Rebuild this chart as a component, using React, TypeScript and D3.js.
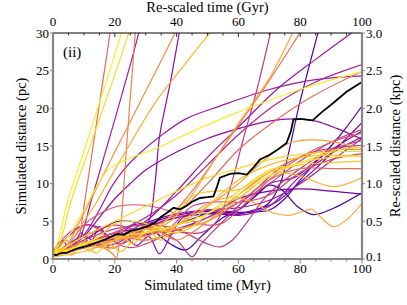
import * as d3 from "d3";

type Pt = [number, number];

// time in Myr, distance in pc
const xTicks = [0, 20, 40, 60, 80, 100];
const yTicks = [0, 5, 10, 15, 20, 25, 30];
const kpcLabels = ["0.1", "0.5", "1.0", "1.5", "2.0", "2.5", "3.0"];

const yA: Pt[] = [[0, 0.5], [2, 2.8], [4.4, 7.2], [10, 14.3], [19.5, 26.5], [22.5, 30.4]];
const yB: Pt[] = [[0, 0.5], [2.5, 2.5], [5.5, 7.2], [12, 15], [21.7, 26.5], [24.8, 30.4]];
const rA: Pt[] = [[0, 0.6], [3, 1.4], [6, 1.3], [8, 2.2], [10.1, 7.2], [14, 17.8], [17.2, 26.5], [18.6, 30.4]];
const pA: Pt[] = [[0, 0.7], [4, 1.3], [8, 2.2], [10, 4.2], [12, 7.2], [20, 18.5], [25.5, 26.5], [28, 30.4]];
const sV: Pt[] = [[0, 0.6], [5, 1.4], [10, 2.3], [15, 1.8], [19, 0.8], [20.5, 0.2], [21.5, 2.5], [24, 16], [26.7, 30.4]];
const oA: Pt[] = [[0, 0.5], [4, 1.5], [8, 4.5], [11.4, 7.2], [20, 14.2], [33, 24.7], [40, 30.4]];
const oB: Pt[] = [[0, 0.5], [5, 2], [10, 5], [13.6, 7.2], [20, 11.8], [33, 20.7], [42, 25.5], [51.5, 30.4]];
const pB: Pt[] = [[0, 0.6], [10, 2], [20, 3], [28, 3.8], [31, 5], [33, 10], [34.5, 16.3], [38, 23.5], [41, 30.4]];
const pArc: Pt[] = [[0, 0.5], [5, 1.5], [10, 3.2], [15, 6.5], [19, 9.6], [22.8, 11.8], [28, 14], [34.4, 16.2], [43, 18.6], [54, 20.3], [70, 22.5], [85, 23.8], [100, 24.3]];
const yArc: Pt[] = [[0, 0.5], [5, 3], [10, 6.5], [14, 9.5], [17.8, 11.8], [25, 13.4], [33, 14.6], [47.6, 17.4], [60, 19.5], [80, 22.5], [100, 24.9]];
const yC: Pt[] = [[0, 0.5], [10, 3], [20, 5], [30, 7], [40, 9], [50, 10.8], [60, 12], [70, 13.2], [80, 13.9], [90, 14.2], [100, 14.3]];
const yD: Pt[] = [[0, 0.4], [10, 2], [20, 3], [30, 3.5], [40, 4.5], [50, 6], [60, 8.5], [70, 11], [80, 12.8], [90, 13.5], [100, 13.7]];
const sB: Pt[] = [[0, 0.4], [10, 1.5], [20, 2.5], [28, 3], [35, 4.5], [45, 9], [56.7, 15.8], [70, 23.7], [80.5, 30.4]];
const sC: Pt[] = [[0, 0.5], [10, 2], [20, 3.5], [30, 4], [40, 6], [50, 10], [60, 14.5], [70, 17.8], [84, 21.6], [100, 24.9]];
const oC: Pt[] = [[0, 0.4], [10, 1.8], [20, 2.5], [30, 3.5], [38, 5], [45, 8.5], [52, 13], [60, 18], [70, 24], [78, 30.4]];
const mA: Pt[] = [[0, 0.5], [10, 2], [20, 3], [30, 2.5], [40, 3.5], [48, 3.5], [53, 5], [57, 9], [61.5, 15.8], [66, 22.5], [70.6, 30.4]];
const bA: Pt[] = [[0, 0.5], [10, 2], [20, 3.5], [30, 4.2], [40, 5.5], [50, 6], [60, 6], [66, 6.5], [70, 7.5], [73.5, 10], [80, 21], [86, 30.4]];
const pC: Pt[] = [[0, 0.5], [10, 1.5], [20, 2.8], [30, 5], [40, 9], [50, 13.5], [60, 17.5], [72.4, 22.5], [85, 26.5], [98, 30.4]];
const pD: Pt[] = [[0, 0.4], [10, 2], [20, 3.5], [30, 5.5], [40, 8.5], [50, 12.5], [60, 16.5], [72, 20.5], [85, 23.5], [100, 25.8]];
const pHump: Pt[] = [[0, 0.5], [5, 1.5], [10, 3], [15, 5.5], [20, 8], [25, 10], [30, 11.8], [40, 14.2], [50, 16], [60, 17.3], [70, 18.3], [78, 18.6], [85, 18.3], [92, 17.3], [100, 15.9]];
const bB: Pt[] = [[0, 0.3], [10, 1.5], [20, 2.5], [30, 3.5], [40, 4.5], [50, 6], [60, 6.2], [70, 6.5], [75, 8], [80, 10.5], [85, 12.8], [90, 15], [95, 17.5], [100, 20.3]];
const bC: Pt[] = [[0, 0.4], [10, 1.8], [20, 2], [30, 4.5], [40, 5.8], [50, 6.3], [58, 5.8], [65, 6.5], [72, 7.5], [78, 9.5], [85, 12], [92, 14.8], [100, 18.1]];
const mB: Pt[] = [[0, 0.4], [10, 2.5], [20, 4], [30, 4.5], [40, 4], [45, 3], [50, 2], [54, 1.6], [58, 2.5], [63, 5], [69, 8.3], [80, 12], [90, 14.5], [100, 15.7]];
const mC: Pt[] = [[0, 0.5], [10, 3], [20, 4.5], [30, 3.5], [40, 3.8], [50, 5.5], [60, 7.5], [70, 10], [80, 13], [90, 15.5], [100, 17.2]];
const pkA: Pt[] = [[0, 0.5], [5, 2], [10, 4.5], [15, 6], [20, 6.9], [26, 7.2], [32, 7], [38, 6.3], [44, 5.2], [50, 4.5], [55, 4.8], [60, 6.5], [70, 10.5], [80, 13.5], [90, 15.5], [100, 16.7]];
const mD: Pt[] = [[0, 0.4], [10, 2], [20, 1.5], [25, 3], [30, 4], [40, 2.5], [45, 0.3], [48, 2], [55, 5], [65, 9], [75, 12.5], [85, 14.3], [100, 15.1]];
const sD: Pt[] = [[0, 0.5], [10, 1.5], [20, 3], [30, 3.5], [40, 4], [50, 5], [60, 7.5], [70, 10.5], [80, 12], [90, 12], [100, 12]];
const oD: Pt[] = [[0, 0.4], [10, 2], [20, 2.8], [30, 3], [40, 4.5], [50, 7], [60, 10], [68, 13], [76, 15.3], [85, 15.8], [100, 14.7]];
const oE: Pt[] = [[0, 0.3], [10, 1], [20, 2.5], [30, 4], [40, 4], [50, 5], [60, 8], [72, 11.4], [80, 11], [90.7, 9.6], [100, 10.8]];
const pE: Pt[] = [[0, 0.5], [10, 1.5], [20, 2.5], [30, 3.2], [40, 4], [50, 5.5], [60, 8], [70, 9], [80, 9.3], [90, 9], [100, 8.6]];
const bD: Pt[] = [[0, 0.6], [10, 2.5], [20, 4.9], [25, 5], [30, 4.5], [38, 2], [43, 1.2], [48, 3], [55, 5.5], [60, 6.5], [66, 8.5], [70, 9.8], [74, 9.2], [79, 7], [84.2, 5.9], [90, 6.6], [100, 8.8]];
const oF: Pt[] = [[0, 0.3], [5, 1], [10, 2], [15, 1.5], [20, 2.5], [25, 3], [30, 2.5], [35, 3], [40, 4.5], [50, 7.3], [58, 8.2], [65, 7.5], [70, 6.3], [76, 5.8], [80, 6.2], [83.7, 6.6], [86, 5.8], [90.7, 4.3], [95, 5.2], [100, 7.4]];
const pF: Pt[] = [[0, 0.5], [5, 2], [10, 3], [15, 2], [18, 2.8], [22, 3.5], [27, 1.8], [31, 3], [34.4, 0.7], [38, 3], [42, 5.5], [50, 6.5], [60, 5.8], [70, 7], [80, 11], [90, 14], [100, 16.2]];
const yE: Pt[] = [[0, 0.3], [5, 1], [10, 2], [15, 3], [20, 4.7], [26, 5], [32, 4.5], [38, 3.5], [44, 4], [50, 6], [60, 9], [70, 11.8], [78, 12.5], [85, 13.5], [92, 14.5], [100, 14.8]];
const oG: Pt[] = [[0, 0.3], [3, 1.2], [6, 0.5], [9, 2], [12, 1], [15, 2.5], [18, 1.2], [22, 3], [26, 2], [30, 4], [35, 2.5], [40, 4.5], [45, 5], [50, 7], [60, 10.5], [70, 12.5], [80, 13.5], [90, 13.8], [100, 13.6]];
const sE: Pt[] = [[0, 0.5], [4, 2.5], [8, 1.2], [12, 3.5], [16, 2], [20, 1.5], [25, 3], [30, 4.5], [35, 3.5], [40, 2.5], [45, 3.5], [50, 5], [60, 8.5], [70, 11.5], [80, 13.5], [90, 14.5], [100, 14.5]];
const pG: Pt[] = [[0, 0.8], [3, 2.5], [6, 1], [9, 3.5], [12, 2], [15, 4.3], [18, 2.8], [22, 3.5], [26, 4.5], [30, 4.8], [35, 5.5], [40, 6], [45, 6.3], [50, 6.5], [55, 6.3], [60, 6.5], [70, 10], [78, 10.8], [85, 13], [92, 15], [100, 17]];
const mE: Pt[] = [[0, 0.5], [4, 3], [8, 4.2], [12, 4.5], [16, 3.5], [20, 2.2], [25, 1.5], [30, 2], [35, 3], [40, 5], [45, 7], [50, 7.5], [55, 7.6], [60, 7.5], [70, 8.5], [80, 11.5], [90, 13.2], [100, 14]];
const pH: Pt[] = [[0, 0.5], [5, 3], [10, 4.5], [14, 4.3], [18, 3], [22, 2], [26, 3], [30, 4], [35, 5], [40, 5.5], [50, 6.5], [60, 6.8], [70, 7.8], [80, 10], [90, 13], [100, 16]];
const oH: Pt[] = [[0, 0.2], [3, 1.5], [6, 0.7], [10, 1.8], [14, 0.8], [18, 2], [22, 1], [26, 2.5], [30, 3.5], [35, 4.5], [40, 6.5], [46, 8.5], [52, 9], [60, 9.2], [70, 11.5], [80, 12.5], [90, 12.8], [100, 13]];

const meanPath: Pt[] = [[0, 0.6], [1, 0.5], [2, 0.7], [3, 0.8], [4.4, 0.8], [6, 1.1], [8, 1.4], [10.9, 1.7], [13, 2], [15, 2.3], [17, 2.6], [20.6, 3.3], [23, 3.2], [25, 3.7], [28, 4], [30.3, 4.3], [33, 4.8], [35, 5.6], [36.8, 6.1], [39, 6.8], [41, 6.6], [43, 7], [45, 7.6], [47.6, 8.1], [50, 8.2], [51.9, 8.3], [53, 9.5], [54, 10.8], [57.3, 11.3], [60, 11.4], [62.7, 11.2], [65, 12.2], [67, 13.2], [70, 13.8], [73, 14.6], [75.6, 15.4], [77, 17], [77.8, 18.5], [80, 18.6], [84, 18.4], [87, 19.5], [90.7, 20.7], [95, 22.2], [100, 23.5]];

// colour position on the plasma map
const runs: { pts: Pt[]; c: number }[] = [
  { pts: pE, c: 0.22 }, { pts: bD, c: 0.12 }, { pts: bA, c: 0.12 }, { pts: bB, c: 0.15 },
  { pts: bC, c: 0.2 }, { pts: pG, c: 0.28 }, { pts: pF, c: 0.3 }, { pts: pH, c: 0.35 },
  { pts: pHump, c: 0.3 }, { pts: pArc, c: 0.35 }, { pts: pC, c: 0.33 }, { pts: pD, c: 0.38 },
  { pts: pA, c: 0.35 }, { pts: pB, c: 0.3 }, { pts: mA, c: 0.45 }, { pts: mB, c: 0.45 },
  { pts: mC, c: 0.48 }, { pts: mD, c: 0.42 }, { pts: mE, c: 0.5 }, { pts: pkA, c: 0.55 },
  { pts: sD, c: 0.62 }, { pts: sB, c: 0.65 }, { pts: sC, c: 0.62 }, { pts: rA, c: 0.62 },
  { pts: sV, c: 0.68 }, { pts: sE, c: 0.7 }, { pts: oA, c: 0.72 }, { pts: oC, c: 0.8 },
  { pts: oD, c: 0.78 }, { pts: oB, c: 0.82 }, { pts: oE, c: 0.83 }, { pts: oF, c: 0.8 },
  { pts: oG, c: 0.85 }, { pts: oH, c: 0.88 }, { pts: yC, c: 0.92 }, { pts: yE, c: 0.92 },
  { pts: yD, c: 0.96 }, { pts: yArc, c: 0.98 }, { pts: yA, c: 0.98 }, { pts: yB, c: 0.93 },
];

const W = 407, H = 305;
const m = { left: 53, right: 362, top: 33, bottom: 259 };
const serif = "Liberation Serif, Times New Roman, DejaVu Serif, serif";

export default function App() {
  const x = d3.scaleLinear().domain([0, 100]).range([m.left, m.right]);
  const y = d3.scaleLinear().domain([0, 30]).range([m.bottom, m.top]);
  const smooth = d3.line<Pt>().x(d => x(d[0])).y(d => y(d[1])).curve(d3.curveCatmullRom.alpha(0.5));
  const jagged = d3.line<Pt>().x(d => x(d[0])).y(d => y(d[1]));
  const minor = d3.range(0, 101, 5);
  const gray = "#858585";

  return (
    <svg width={W} height={H} style={{ position: "fixed", left: 0, top: 0, background: "#fff", fontFamily: serif }}>
      <defs>
        <clipPath id="plot">
          <rect x={m.left} y={m.top} width={m.right - m.left} height={m.bottom - m.top} />
        </clipPath>
      </defs>

      <g clipPath="url(#plot)" fill="none">
        {runs.map((r, i) => (
          <path key={i} d={smooth(r.pts) || ""} stroke={d3.interpolatePlasma(r.c)} strokeWidth={1.2} />
        ))}
        <path d={jagged(meanPath) || ""} stroke="#000" strokeWidth={1.8} />
      </g>

      {/* top axis */}
      <line x1={m.left} x2={m.right} y1={m.top} y2={m.top} stroke="#000" strokeWidth={1} />
      {minor.map(t => (
        <line key={"tt" + t} x1={x(t)} x2={x(t)} y1={m.top} y2={m.top + (t % 20 === 0 ? 4 : 2.5)} stroke="#000" strokeWidth={0.8} />
      ))}
      {xTicks.map(t => (
        <text key={"tl" + t} x={x(t)} y={26} textAnchor="middle" fontSize={13}>{t}</text>
      ))}
      <text x={(m.left + m.right) / 2} y={12} textAnchor="middle" fontSize={14.5}>Re-scaled time (Gyr)</text>

      {/* bottom axis */}
      {minor.map(t => (
        <line key={"bt" + t} x1={x(t)} x2={x(t)} y1={m.bottom} y2={m.bottom + (t % 20 === 0 ? 4.5 : 2.5)} stroke={gray} strokeWidth={1} />
      ))}
      <line x1={m.left - 1} x2={m.right + 1} y1={m.bottom} y2={m.bottom} stroke={gray} strokeWidth={2.2} />
      {xTicks.map(t => (
        <text key={"bl" + t} x={x(t)} y={273} textAnchor="middle" fontSize={13}>{t}</text>
      ))}
      <text x={(m.left + m.right) / 2} y={290} textAnchor="middle" fontSize={14.5}>Simulated time (Myr)</text>

      {/* left axis */}
      <line x1={m.left} x2={m.left} y1={m.top} y2={m.bottom} stroke={gray} strokeWidth={2.2} />
      {yTicks.map(v => (
        <g key={"ly" + v}>
          <line x1={m.left - 3} x2={m.left} y1={y(v)} y2={y(v)} stroke={gray} strokeWidth={1} />
          <text x={m.left - 4} y={y(v) + 4.5} textAnchor="end" fontSize={13}>{v}</text>
        </g>
      ))}
      <text transform={`translate(26,${(m.top + m.bottom) / 2}) rotate(-90)`} textAnchor="middle" fontSize={14.5}>Simulated distance (pc)</text>

      {/* right axis */}
      <line x1={m.right} x2={m.right} y1={m.top} y2={m.bottom} stroke={gray} strokeWidth={2.2} />
      {yTicks.map((v, i) => (
        <g key={"ry" + v}>
          <line x1={m.right} x2={m.right + 3} y1={y(v)} y2={y(v)} stroke={gray} strokeWidth={1} />
          <text x={m.right + 4} y={y(v) + (v === 0 ? 2 : 4.5)} textAnchor="start" fontSize={13}>{kpcLabels[i]}</text>
        </g>
      ))}
      <text transform={`translate(400,${(m.top + m.bottom) / 2}) rotate(-90)`} textAnchor="middle" fontSize={14.5}>Re-scaled distance (kpc)</text>

      <text x={63} y={57} fontSize={15}>(ii)</text>
    </svg>
  );
}
